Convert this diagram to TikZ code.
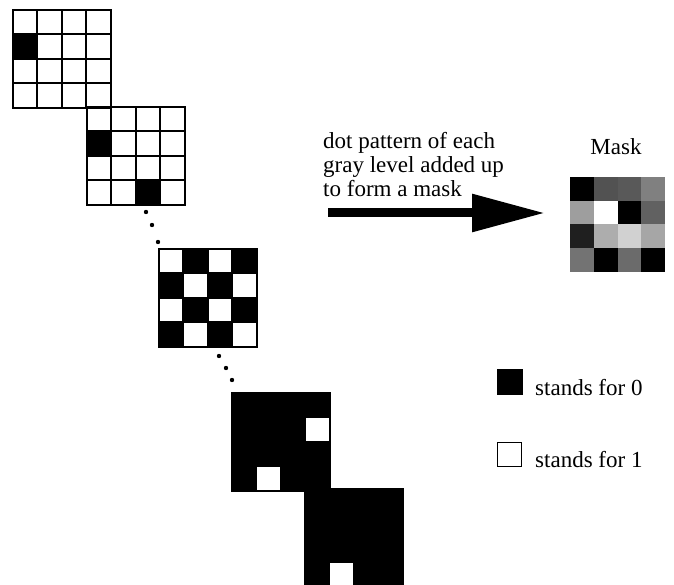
\documentclass[tikz,border=0pt]{standalone}
\usepackage{fontspec}
\setmainfont{Liberation Serif}
\usetikzlibrary{arrows.meta}
\begin{document}
\begin{tikzpicture}[x=1pt,y=-1pt,
  gridline/.style={line width=2pt, line cap=rect},
  txt/.style={font=\fontsize{23}{24}\selectfont, inner sep=0pt},
  dotmark/.style={fill=black}]
\useasboundingbox (0,0) rectangle (674,585);
\def\s{24.4}
\def\gridlines{\foreach \i in {0,...,4} {\draw[gridline] (\i*\s,0) -- (\i*\s,4*\s); \draw[gridline] (0,\i*\s) -- (4*\s,\i*\s);}}
% grid 1
\begin{scope}[shift={(13,10)}]
  \fill (0,\s) rectangle ++(\s,\s);
  \gridlines
\end{scope}
% grid 2
\begin{scope}[shift={(87,107)}]
  \fill (0,\s) rectangle ++(\s,\s);
  \fill (2*\s,3*\s) rectangle ++(\s,\s);
  \gridlines
\end{scope}
% checkerboard
\begin{scope}[shift={(159,249)}]
  \foreach \r in {0,...,3} \foreach \c in {0,...,3} {
    \pgfmathtruncatemacro\odd{mod(\r+\c,2)}
    \ifnum\odd=1 \fill (\c*\s,\r*\s) rectangle ++(\s,\s); \fi}
  \gridlines
\end{scope}
% grid 4
\begin{scope}[shift={(232,393)}]
  \fill (0,0) rectangle (4*\s,4*\s);
  \fill[white] (3*\s,\s) rectangle ++(\s,\s);
  \fill[white] (\s,3*\s) rectangle ++(\s,\s);
  \gridlines
\end{scope}
% grid 5
\begin{scope}[shift={(305,489)}]
  \fill (0,0) rectangle (4*\s,4*\s);
  \fill[white] (\s,3*\s) rectangle ++(\s,\s);
  \gridlines
\end{scope}
% dots
\foreach \p in {(146,212),(152,225),(158,242),(219,356),(226,368),(232,380)}
  \fill \p circle (2.2pt);
% description
\node[txt, anchor=base west] (d1) at (323,149) {dot pattern of each};
\node[txt, anchor=base west] (d2) at (323,173) {gray level added up};
\node[txt, anchor=base west] (d3) at (323,197) {to form a mask};
% arrow
\coordinate (arrowfrom) at (328,213);
\coordinate (arrowto) at (545,213);
\draw[line width=9pt, -{Triangle[length=73pt,width=36pt]}] (arrowfrom) -- (arrowto);
% mask
\node[txt, anchor=base] (masklabel) at (616,155) {Mask};
\begin{scope}[shift={(570,177)}]
  \def\m{23.75}
  \foreach \r/\c/\g in {0/0/100,0/1/68,0/2/65,0/3/50,
                        1/0/38,1/1/0,1/2/100,1/3/62,
                        2/0/88,2/1/32,2/2/18,2/3/35,
                        3/0/55,3/1/100,3/2/58,3/3/100}
    \fill[black!\g] (\c*\m,\r*\m) rectangle ++(\m,\m);
\end{scope}
% legend
\node[fill=black, minimum size=26pt, inner sep=0pt] (key0) at (510,382) {};
\node[txt, anchor=base west] (lab0) at (535,395) {stands for 0};
\node[draw, line width=1.5pt, minimum size=24pt, inner sep=0pt] (key1) at (509.5,454.5) {};
\node[txt, anchor=base west] (lab1) at (535,467) {stands for 1};
\end{tikzpicture}
\end{document}
